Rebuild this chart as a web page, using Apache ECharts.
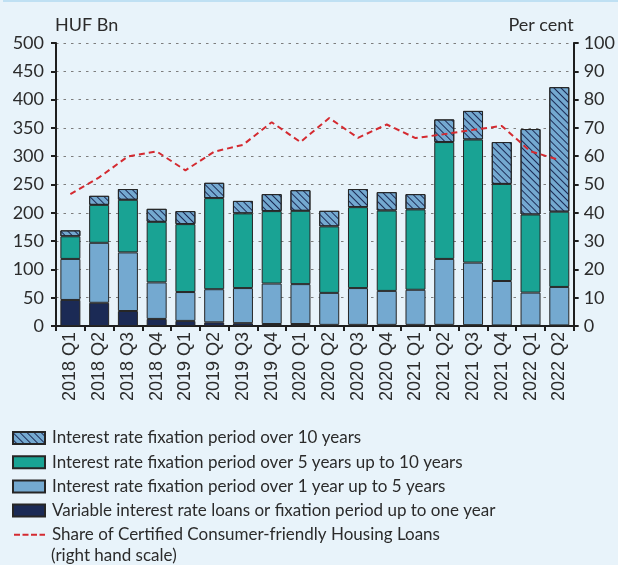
<!DOCTYPE html>
<html>
<head>
<meta charset="utf-8">
<script src="https://cdn.jsdelivr.net/npm/echarts@6/dist/echarts.min.js"></script>
<style>
  html, body { margin: 0; padding: 0; background: #e8f3fa; }
  #chart { width: 618px; height: 565px; }
</style>
</head>
<body>
<div id="chart"></div>
<script>
// Quarters shown on the category axis
const quarters = [
  '2018 Q1', '2018 Q2', '2018 Q3', '2018 Q4',
  '2019 Q1', '2019 Q2', '2019 Q3', '2019 Q4',
  '2020 Q1', '2020 Q2', '2020 Q3', '2020 Q4',
  '2021 Q1', '2021 Q2', '2021 Q3', '2021 Q4',
  '2022 Q1', '2022 Q2'
];

// New housing loans by interest rate fixation, HUF Bn
const variableUpTo1Y = [46, 41, 26.5, 12.5, 9, 6.5, 5, 3.5, 3.5, 2, 2, 2, 2, 2, 1.5, 1, 1, 1];
const over1To5Y      = [72.5, 106, 103.5, 64.5, 51, 58.5, 62, 71.5, 70.5, 56.5, 65, 60, 62, 116.5, 110.5, 78.5, 58, 68];
const over5To10Y     = [40, 67, 93, 107, 120, 161, 132, 128, 129.5, 117.5, 143, 142, 142, 206.5, 217.5, 171.5, 138, 133];
const over10Y        = [10.5, 16, 19, 23, 23, 27, 22, 30, 36.5, 27.5, 32, 32.5, 27, 40, 50.5, 74, 151, 220];

// Share of certified consumer-friendly housing loans, per cent
const cfhlShare = [46.6, 52.5, 59.9, 61.7, 55, 61.6, 64, 72, 65, 73.5, 66.5, 71.2, 66.4, 67.8, 69.3, 70.7, 61.7, 58.7];

const names = {
  over10: 'Interest rate fixation period over 10 years',
  over5: 'Interest rate fixation period over 5 years up to 10 years',
  over1: 'Interest rate fixation period over 1 year up to 5 years',
  variable: 'Variable interest rate loans or fixation period up to one year',
  share: 'Share of Certified Consumer-friendly Housing Loans'
};
const shareNote = '(right hand scale)';

const colors = {
  navy: '#1b2a55',
  lightBlue: '#74a9d0',
  teal: '#19a394',
  red: '#d42a30',
  border: '#262626',
  text: '#2b2b2b'
};

const labelFont = 'Lato, "Open Sans", sans-serif';
const axisLine = { show: true, lineStyle: { color: '#1e1e1e', width: 2 } };
const axisTick = { show: true, length: 5, lineStyle: { color: '#1e1e1e', width: 2 } };

// Legend key for the dashed line: four short dashes in a 32x12 box
// (the two hair-thin corner slivers only fix the box so the dashes keep their shape)
const dashedKey = 'path://M0,0h0.01v0.01h-0.01z M32,12h-0.01v-0.01h0.01z ' +
  'M1,5h6v2h-6z M9.5,5h6v2h-6z M18,5h6v2h-6z M26.5,5h5.5v2h-5.5z';

function barSeries(name, data, color, decal) {
  const style = { color: color, borderColor: colors.border, borderWidth: 1 };
  if (decal) style.decal = decal;
  return {
    name: name,
    type: 'bar',
    stack: 'loans',
    yAxisIndex: 0,
    barWidth: 20,
    data: data,
    itemStyle: style
  };
}

// Diagonal hatching for the longest fixation band
const hatch = {
  symbol: 'rect',
  symbolSize: 1,
  color: colors.navy,
  dashArrayX: [1, 0],
  dashArrayY: [1, 4],
  rotation: Math.PI / 4
};

const chart = echarts.init(document.getElementById('chart'), null, { renderer: 'canvas' });

chart.setOption({
  backgroundColor: '#e8f3fa',
  animation: false,
  textStyle: { fontFamily: labelFont, color: colors.text },
  graphic: [
    { type: 'rect', shape: { x: 3, y: 0, width: 615, height: 2 }, style: { fill: '#bfe0f3' } },
    {
      type: 'text', left: 51, top: 547,
      style: { text: shareNote, font: '17px ' + labelFont, fill: colors.text }
    }
  ],
  grid: { left: 56, right: 43, top: 43, bottom: 239 },
  legend: {
    orient: 'vertical',
    left: 12,
    top: 428,
    height: 200,
    padding: 0,
    itemWidth: 32,
    itemHeight: 12,
    itemGap: 4.2,
    selectedMode: false,
    textStyle: { fontFamily: labelFont, fontSize: 17, color: colors.text, lineHeight: 20, padding: [0, 0, 0, 2] },
    data: [
      { name: names.over10, icon: 'rect' },
      { name: names.over5, icon: 'rect' },
      { name: names.over1, icon: 'rect' },
      { name: names.variable, icon: 'rect' },
      { name: names.share, icon: dashedKey, itemStyle: { color: colors.red, borderWidth: 0 } }
    ]
  },
  xAxis: {
    type: 'category',
    data: quarters,
    axisLine: axisLine,
    axisTick: { show: true, length: 5, alignWithLabel: false, lineStyle: { color: '#1e1e1e', width: 2 } },
    axisLabel: {
      rotate: 90,
      interval: 0,
      margin: 6,
      fontFamily: '"Liberation Sans", Arial, sans-serif',
      fontSize: 18,
      color: colors.text
    }
  },
  yAxis: [
    {
      type: 'value',
      min: 0, max: 500, interval: 50,
      name: 'HUF Bn',
      nameLocation: 'end',
      nameGap: 9,
      nameTextStyle: { align: 'left', fontSize: 18, fontFamily: labelFont, color: colors.text, padding: [0, 0, 0, -1] },
      axisLine: axisLine,
      axisTick: axisTick,
      axisLabel: { fontSize: 18, margin: 12, color: colors.text, fontFamily: labelFont },
      splitLine: { show: true, lineStyle: { color: '#7d7d7d', width: 1, type: [2.5, 5] } }
    },
    {
      type: 'value',
      min: 0, max: 100, interval: 10,
      position: 'right',
      name: 'Per cent',
      nameLocation: 'end',
      nameGap: 9,
      nameTextStyle: { align: 'right', fontSize: 18, fontFamily: labelFont, color: colors.text },
      axisLine: axisLine,
      axisTick: axisTick,
      axisLabel: { fontSize: 18, margin: 10, color: colors.text, fontFamily: labelFont },
      splitLine: { show: false }
    }
  ],
  series: [
    barSeries(names.variable, variableUpTo1Y, colors.navy),
    barSeries(names.over1, over1To5Y, colors.lightBlue),
    barSeries(names.over5, over5To10Y, colors.teal),
    barSeries(names.over10, over10Y, colors.lightBlue, hatch),
    {
      name: names.share,
      type: 'line',
      yAxisIndex: 1,
      data: cfhlShare,
      symbol: 'none',
      z: 5,
      lineStyle: { color: colors.red, width: 2, type: [6, 4] },
      itemStyle: { color: colors.red }
    }
  ]
});
</script>
</body>
</html>
